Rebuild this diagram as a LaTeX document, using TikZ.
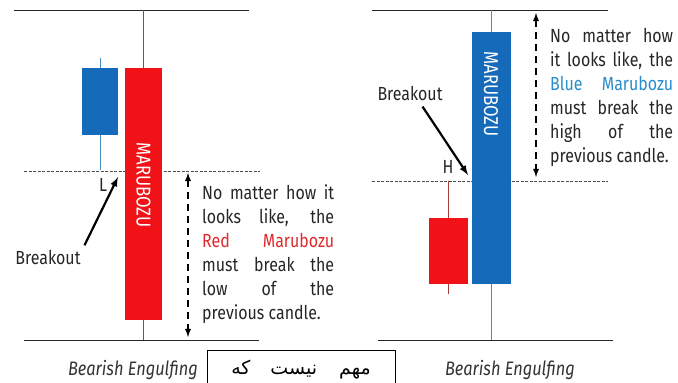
\documentclass[tikz,border=0pt]{standalone}
\usepackage{fontspec}
\setmainfont{Fira Sans}[FakeStretch=0.84]
\newfontfamily\persianfont[Script=Arabic]{DejaVu Sans}
\TeXXeTstate=1
\usetikzlibrary{calc}
\definecolor{candlered}{RGB}{240,18,22}
\definecolor{candleblue}{RGB}{22,106,186}
\definecolor{wickred}{RGB}{170,60,60}
\definecolor{wickblue}{RGB}{70,140,190}
\definecolor{textred}{RGB}{225,40,45}
\definecolor{textblue}{RGB}{40,140,205}
\tikzset{
  levelline/.style = {draw=black!85, line width=0.9pt},
  breakline/.style = {draw=black!70, dash pattern=on 3pt off 1.5pt, line width=0.7pt},
  spanarrow/.style = {<->, line width=1.8pt, dash pattern=on 7pt off 5pt},
  pointer/.style = {->, line width=2.2pt, shorten <=1pt},
  wick/.style = {line width=0.8pt},
  candletext/.style = {text=white, font=\fontsize{20}{20}\selectfont, inner sep=0pt},
  tag/.style = {font=\fontsize{19}{19}\selectfont, text=black!85},
  notebox/.style = {font=\fontsize{19}{24}\selectfont, text=black!85, align=left, inner sep=0pt},
  caption/.style = {font=\fontsize{19.5}{19.5}\selectfont\itshape, text=black!80}
}
\tikzset{>=latex}
\newcommand{\jline}[2][132pt]{\makebox[#1][s]{#2}}

\begin{document}
\begin{tikzpicture}[x=1pt,y=1pt]
  \clip (0,0) rectangle (678,383);
  % left chart: levels
  \draw[levelline] (14,373) -- (249,373);
  \draw[levelline] (24,43) -- (259,43);
  \draw[breakline] (24,212) -- (260,212);
  % previous candle
  \draw[wick, wickblue] (100,325) -- (100,213);
  \fill[candleblue] (82,248) rectangle (118,315);
  % red marubozu
  \draw[wick, wickred] (143.5,373) -- (143.5,43);
  \fill[candlered] (125,63) rectangle (162,315);
  \node[candletext, rotate=-90] (maruL) at (143.5,198) {MARUBOZU};
  % breakout
  \node[tag] (lowL) at (103,198) {L};
  \node[tag] (breakL) at (48,126) {Breakout};
  \coordinate (hitL) at (118,206);
  \draw[pointer] (breakL.north east) -- (hitL);
  % distance
  \coordinate (spanLtop) at (188,210);
  \coordinate (spanLbot) at (188,46);
  \draw[spanarrow] (spanLtop) -- (spanLbot);
  \node[notebox, anchor=north west] (noteL) at (202,199) {%
    \jline{No matter how it}\\
    \jline{looks like, the}\\
    \jline{\textcolor{textred}{Red Marubozu}}\\
    \jline{must break the}\\
    \jline{low of the}\\
    previous candle.};
  \node[caption] (capL) at (133,13) {Bearish Engulfing};

  % right chart: levels
  \draw[levelline] (372,373) -- (608,373);
  \draw[levelline] (378,43) -- (613,43);
  \draw[breakline] (372,202) -- (608,202);
  % previous candle
  \draw[wick, wickred] (448.5,202) -- (448.5,89);
  \fill[candlered] (429,99) rectangle (468,165);
  % blue marubozu
  \draw[wick, wickblue] (491,373) -- (491,43);
  \fill[candleblue] (472,99) rectangle (511,351);
  \node[candletext, rotate=-90] (maruR) at (491,289) {MARUBOZU};
  % breakout
  \node[tag] (highR) at (448,216) {H};
  \node[tag] (breakR) at (410,290) {Breakout};
  \coordinate (hitR) at (468,208);
  \draw[pointer] ($(breakR.south)+(12,-2)$) -- (hitR);
  % distance
  \coordinate (spanRtop) at (536,370);
  \coordinate (spanRbot) at (536,206);
  \draw[spanarrow] (spanRtop) -- (spanRbot);
  \node[notebox, anchor=north west] (noteR) at (550,355) {%
    \jline[123pt]{No matter how}\\
    \jline[123pt]{it looks like, the}\\
    \jline[123pt]{\textcolor{textblue}{Blue Marubozu}}\\
    \jline[123pt]{must break the}\\
    \jline[123pt]{high of the}\\
    previous candle.};
  \node[caption] (capR) at (510,13) {Bearish Engulfing};

  % note box
  \draw[line width=0.8pt] (207,-10) rectangle (395,33);
  \node[anchor=base, font=\persianfont\fontsize{19}{20}\selectfont] (persian) at (301,8)
    {\beginR مهم\hspace{22pt}نیست\hspace{20pt}که\endR};
\end{tikzpicture}
\end{document}
